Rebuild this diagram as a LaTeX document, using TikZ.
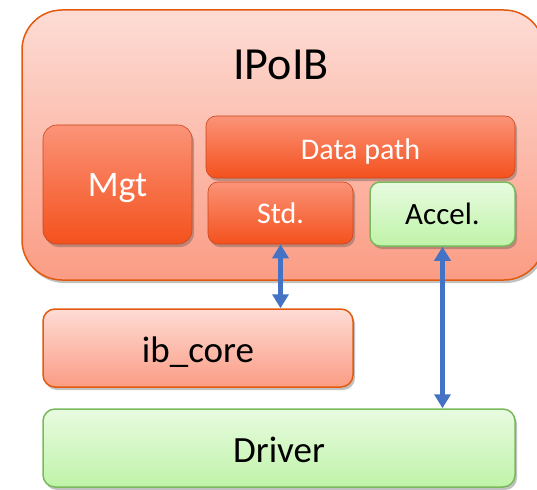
\documentclass[tikz,border=0pt]{standalone}
\usepackage{fontspec}
\setmainfont{Carlito}
\usetikzlibrary{arrows.meta, shadows}
\definecolor{edgeorange}{HTML}{E35A0E}
\definecolor{pinktop}{HTML}{FDDCD5}
\definecolor{pinkbot}{HTML}{FB9C84}
\definecolor{redtop}{HTML}{FB9378}
\definecolor{redbot}{HTML}{F4511D}
\definecolor{rededge}{HTML}{C9461C}
\definecolor{greentop}{HTML}{E8FBE0}
\definecolor{greenbot}{HTML}{BFF3A8}
\definecolor{greenedge}{HTML}{79B85C}
\definecolor{linkblue}{HTML}{4472C4}

\begin{document}
\begin{tikzpicture}[x=1pt, y=-1pt,
    softshadow/.style={drop shadow={shadow xshift=2pt, shadow yshift=-3pt, opacity=0.35, fill=black!70}},
    pinkbox/.style={draw=edgeorange, line width=1.5pt, top color=pinktop, bottom color=pinkbot, text depth=0pt, softshadow},
    redbox/.style={draw=rededge, line width=0.6pt, top color=redtop, bottom color=redbot, text=white, rounded corners=10pt, text depth=0pt, softshadow},
    greenbox/.style={draw=greenedge, line width=1.5pt, top color=greentop, bottom color=greenbot, rounded corners=10pt, text depth=0pt, softshadow},
    link/.style={{Triangle[width=16pt,length=14pt]}-{Triangle[width=16pt,length=14pt]}, line width=4.5pt, linkblue}]
    \useasboundingbox (0,0) rectangle (537,489);
    % IPoIB module
    \node[pinkbox, rounded corners=40pt, minimum width=522pt, minimum height=270pt] (ipoib) at (283,145) {};
    \node[font=\fontsize{46}{50}\selectfont, anchor=base] (title) at (281,80) {IPoIB};
    \node[redbox, rounded corners=14pt, minimum width=149pt, minimum height=119pt, font=\fontsize{36}{40}\selectfont, text height=24pt] (mgt) at (117.5,184.5) {Mgt};
    \node[redbox, minimum width=309pt, minimum height=62pt, font=\fontsize{30}{34}\selectfont, text height=24pt] (data) at (360.5,147) {Data path};
    \node[redbox, minimum width=145pt, minimum height=62pt, font=\fontsize{30}{34}\selectfont, text height=20pt] (std) at (280.5,213) {Std.};
    \node[greenbox, minimum width=145pt, minimum height=64pt, font=\fontsize{31}{34}\selectfont, text height=20pt] (accel) at (442.5,214) {Accel.};
    % lower layers
    \node[pinkbox, rounded corners=12pt, minimum width=310pt, minimum height=78pt, font=\fontsize{37}{40}\selectfont, text height=28pt] (core) at (198,348) {ib\_core};
    \node[greenbox, rounded corners=12pt, minimum width=472pt, minimum height=78pt, font=\fontsize{37}{40}\selectfont, text height=28pt] (driver) at (279,448) {Driver};
    % links
    \draw[link] (std.south) -- (std.south |- core.north);
    \draw[link] (accel.south) -- (accel.south |- driver.north);
\end{tikzpicture}
\end{document}
